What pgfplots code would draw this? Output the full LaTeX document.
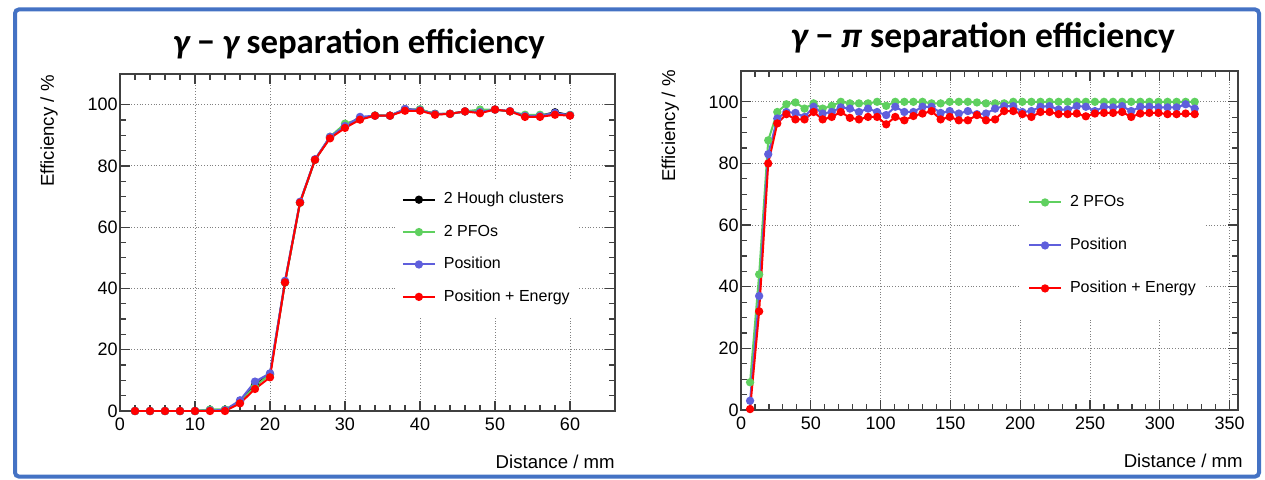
\documentclass[border=0pt]{standalone}
\usepackage{pgfplots}
\usepackage{pgfplotstable}
\pgfplotsset{compat=1.18}
\usepackage{fontspec}
\setmainfont{Liberation Sans}
\newfontfamily\titlefont{Carlito}
\definecolor{rgreen}{RGB}{95,208,95}
\definecolor{rblue}{RGB}{95,95,220}
\definecolor{rred}{RGB}{255,0,0}
\definecolor{frameblue}{RGB}{68,114,196}

\pgfplotstableread{
x   hough pfo  pos  pe
2   0    0    0    0
4   0    0    0    0
6   0    0    0    0
8   0    0    0    0
10  0    0    0    0
12  0.3  0.5  0.2  0
14  0.3  0.5  0.3  0
16  3    3    3.5  2.5
18  8.5  8    9.6  7.2
20  12   12   12.3 11
22  42   42   42.5 42
24  68   68   68.3 68
26  82   82   82.2 82
28  89.3 89.5 89.5 89
30  93   93.8 93   92.4
32  95.5 95.3 96   95.1
34  96.4 96.5 96.4 96.4
36  96.4 96.4 96.4 96.4
38  98.5 98.2 98.6 98
40  98.3 98.5 98.2 98
42  97   96.9 96.9 96.7
44  97   97   97   97
46  97.8 97.8 97.8 97.8
48  97.8 98.4 97.6 97.2
50  98.4 98.4 98.4 98.4
52  97.8 97.8 97.9 97.8
54  96.4 96.7 96.3 96
56  96.4 96.7 96.3 96
58  97.5 97   97.3 96.7
60  96.6 96.6 96.5 96.4
}\gg

\pgfplotstableread{
x     pfo   pos   pe
6.5   9     3     0.3
13    44    37    32
19.5  87.5  83    80
26    96.7  94.6  93
32.5  99.2  96.7  96
39    99.8  96.4  94.3
45.5  97.8  95.1  94.3
52    99.5  98.4  96.7
58.5  97.8  96.2  94.3
65    98.7  96.7  95.1
71.5  100   98.2  96.7
78    99.5  97.8  94.8
84.5  99.5  96.7  94.3
91    99.5  97.8  95.1
97.5  100   96.7  95.1
104   98.7  95.7  92.7
110.5 100   98.4  95.1
117   100   96.7  94
123.5 100   96.7  95.4
130   100   98.4  96.2
136.5 99.5  98.4  97
143   99.5  96.4  94.3
149.5 100   97    95.1
156   100   96.2  94
162.5 100   97    94
169   99.8  96    95.7
175.5 99.5  96.2  94
182   99.5  97.8  94.3
188.5 99.5  98.6  97
195   100   98.6  97
201.5 100   96.7  96
208   100   97    95.1
214.5 100   98.4  96.7
221   100   98.6  96.7
227.5 100   97.5  96
234   100   97.5  96
240.5 100   98.6  96.2
247   100   98.4  95.3
253.5 100   97    96.2
260   100   98.4  96.4
266.5 100   98.2  96.4
273   100   98.6  96.7
279.5 100   97    95.1
286   100   98.4  96.2
292.5 100   98.4  96.4
299   100   98.2  96.4
305.5 100   98.2  96
312   100   98.2  96
318.5 100   99.2  96.2
325   100   97.8  96
}\gp

\pgfplotsset{
 rootstyle/.style={
  scale only axis, anchor=south west,
  ymin=0, ymax=110, ytick={0,20,...,100}, minor y tick num=3,
  tick align=inside, major tick length=5pt, minor tick length=3pt,
  grid=major, major grid style={densely dotted, black!50, line width=0.45pt},
  axis line style={black!75, line width=0.6pt},
  every tick/.style={black!75, line width=0.6pt},
  tick label style={font=\fontsize{9}{10}\selectfont},
  /pgf/number format/assume math mode=true,
  yticklabel style={inner xsep=1pt},
  legend cell align=left,
  legend style={draw=none, fill=white, font=\fontsize{8}{9}\selectfont,
    inner xsep=3.5pt, inner ysep=6.5pt, row sep=8.4pt,
    nodes={inner sep=0pt, text height=6pt, text depth=1.8pt},
    /tikz/every odd column/.style={column sep=4pt}},
  legend image code/.code={\draw[mark repeat=2,mark phase=2,##1] plot coordinates {(0pt,0pt) (8pt,0pt) (16pt,0pt)};},
 },
 ser/.style={mark=*, mark size=1.55pt, line width=1pt, mark options={solid}},
}

\begin{document}
\begin{tikzpicture}
% frame
\draw[frameblue, line width=2pt, rounded corners=2pt] (7.5pt,1.2pt) rectangle (629.5pt,234.8pt);

% left axis
\begin{axis}[rootstyle, at={(60pt,34pt)}, width=247.5pt, height=168.5pt,
  xmin=0, xmax=66, xtick={0,10,...,60}, minor x tick num=4,
  legend style={at={(axis cs:36.6,75.9)}, anchor=north west}]
\addplot[ser, black] table[x=x,y=hough]{\gg};
\addlegendentry{2 Hough clusters}
\addplot[ser, rgreen] table[x=x,y=pfo]{\gg};
\addlegendentry{2 PFOs}
\addplot[ser, rblue] table[x=x,y=pos]{\gg};
\addlegendentry{Position}
\addplot[ser, rred] table[x=x,y=pe]{\gg};
\addlegendentry{Position + Energy}
\end{axis}

% right axis
\begin{axis}[rootstyle, at={(370.5pt,34.5pt)}, width=248.5pt, height=169.5pt,
  xmin=0, xmax=356, xtick={0,50,...,350}, minor x tick num=4,
  legend style={at={(axis cs:199.6,77.8)}, anchor=north west, row sep=13.7pt, inner ysep=12pt, inner xsep=4pt}]
\addplot[ser, rgreen] table[x=x,y=pfo]{\gp};
\addlegendentry{2 PFOs}
\addplot[ser, rblue] table[x=x,y=pos]{\gp};
\addlegendentry{Position}
\addplot[ser, rred] table[x=x,y=pe]{\gp};
\addlegendentry{Position + Energy}
\end{axis}

% titles
\node[font=\titlefont\bfseries\fontsize{17.4}{20}\selectfont, anchor=base, inner sep=0pt] at (179.5pt,213pt) {{\itshape γ} − {\itshape γ} separation efficiency};
\node[font=\titlefont\bfseries\fontsize{17.8}{20}\selectfont, anchor=base, inner sep=0pt] at (491.5pt,216pt) {{\itshape γ} − {\itshape π} separation efficiency};

% axis labels
\node[font=\fontsize{9.3}{10}\selectfont, rotate=90, anchor=base east, inner sep=0pt] at (27pt,202pt) {Efficiency / \%};
\node[font=\fontsize{9.3}{10}\selectfont, rotate=90, anchor=base east, inner sep=0pt] at (337.5pt,204.5pt) {Efficiency / \%};
\node[font=\fontsize{9.3}{10}\selectfont, anchor=base east, inner sep=0pt] at (307.5pt,5.5pt) {Distance / mm};
\node[font=\fontsize{9.3}{10}\selectfont, anchor=base east, inner sep=0pt] at (621.5pt,6pt) {Distance / mm};

\pgfresetboundingbox
\path (0,0) rectangle (632.5pt,239.5pt);
\end{tikzpicture}
\end{document}
